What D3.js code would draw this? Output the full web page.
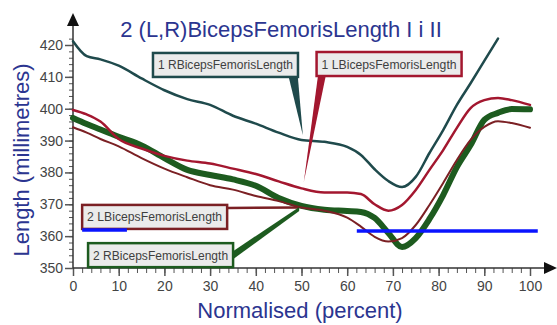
<!DOCTYPE html>
<html>
<head>
<meta charset="utf-8">
<script src="https://cdn.jsdelivr.net/npm/d3@7"></script>
<style>
  body { margin: 0; background: #fff; }
  svg { display: block; font-family: "Liberation Sans", Arial, sans-serif; }
</style>
</head>
<body>
<div id="chart"></div>
<script>
// normalised (percent) sample points shared by all series
const normalised = [0, 3, 6, 10, 15, 20, 25, 30, 35, 40, 45, 50, 55, 60, 63, 66, 69, 72, 75, 78, 81, 84, 87, 90, 93, 96, 100];

const rBicepsFemoris1 = [421.2, 416.5, 415.5, 413.5, 409.5, 405.8, 403, 401.2, 397.8, 395.3, 392.5, 390.2, 389.6, 388, 385.5, 381, 377.3, 375.4, 378.6, 386.1, 393.3, 401.2, 408, 415, 422, null, null];
const lBicepsFemoris1 = [399.6, 398.2, 396, 390.5, 387.5, 385.2, 383.7, 382.8, 381.2, 379.5, 377.2, 375, 373.7, 373.7, 373.2, 370, 368, 369.8, 374.5, 380.8, 387, 394, 400.2, 402.7, 403.4, 402.7, 401.2];
const lBicepsFemoris2 = [394.2, 392.5, 390.5, 388.2, 384.5, 381.2, 378.5, 376, 374.6, 372.6, 371, 369, 368, 365.8, 363, 359.8, 358.3, 359.4, 363.5, 369.8, 376.7, 383.9, 390.2, 394.3, 396.1, 395.5, 394];
const rBicepsFemoris2 = [397.1, 395.2, 393.5, 391.2, 388.5, 384.5, 380.8, 379.2, 377.8, 375.8, 372, 369.5, 368.3, 367.9, 367.6, 365.7, 361, 356.6, 359.4, 365.4, 372.9, 381.7, 388.6, 396.5, 398.7, 399.9, 399.8];

const seriesNames = ["1 RBicepsFemorisLength", "1 LBicepsFemorisLength", "2 LBicepsFemorisLength", "2 RBicepsFemorisLength"];
const seriesColors = ["#1f4a4c", "#a3172f", "#7b2024", "#1d5b1f"];
const seriesWidths = [2.5, 2.5, 2, 6];

const xTicks = [0, 10, 20, 30, 40, 50, 60, 70, 80, 90, 100];
const yTicks = [350, 360, 370, 380, 390, 400, 410, 420];

// blue marker strokes laid over the chart: [from %, to %, length]
const blueMarks = [[2, 11.8, 361.9], [62.1, 101.7, 361.6]];

const width = 557, height = 325;
const x = d3.scaleLinear().domain([0, 100]).range([73, 530]);
const y = d3.scaleLinear().domain([350, 420]).range([268, 45]);

const svg = d3.select("#chart").append("svg")
    .attr("width", width)
    .attr("height", height);

const navy = "#2b3590";

// title + axis titles
svg.append("text")
    .attr("x", 281).attr("y", 37)
    .attr("text-anchor", "middle")
    .attr("font-size", 22)
    .attr("fill", navy)
    .text("2 (L,R)BicepsFemorisLength I i II");

svg.append("text")
    .attr("transform", "translate(29,160) rotate(-90)")
    .attr("text-anchor", "middle")
    .attr("font-size", 22)
    .attr("fill", navy)
    .text("Length (millimetres)");

svg.append("text")
    .attr("x", 300).attr("y", 318)
    .attr("text-anchor", "middle")
    .attr("font-size", 22)
    .attr("fill", navy)
    .text("Normalised (percent)");

// axes
const axisColor = "#555";
const yAxis = svg.append("g").attr("transform", `translate(${x(0)},0)`)
    .call(d3.axisLeft(y).tickValues(d3.range(350, 423, 2)).tickSize(4).tickFormat(""));
yAxis.selectAll("line").attr("stroke", axisColor);
yAxis.select(".domain").remove();
const yMajor = svg.append("g").attr("transform", `translate(${x(0)},0)`)
    .call(d3.axisLeft(y).tickValues(yTicks).tickSize(8).tickPadding(2));
yMajor.select(".domain").remove();
yMajor.selectAll("line").attr("stroke", axisColor).attr("stroke-width", 1.5);
yMajor.selectAll("text").attr("font-size", 14).attr("fill", "#444").attr("font-family", "Liberation Sans, Arial");

const xAxis = svg.append("g").attr("transform", `translate(0,${y(350)})`)
    .call(d3.axisBottom(x).tickValues(d3.range(0, 101, 2)).tickSize(5).tickFormat(""));
xAxis.selectAll("line").attr("stroke", axisColor);
xAxis.select(".domain").remove();
const xMajor = svg.append("g").attr("transform", `translate(0,${y(350)})`)
    .call(d3.axisBottom(x).tickValues(xTicks).tickSize(8).tickPadding(5));
xMajor.select(".domain").remove();
xMajor.selectAll("line").attr("stroke", axisColor).attr("stroke-width", 1.5);
xMajor.selectAll("text").attr("font-size", 14).attr("fill", "#444").attr("font-family", "Liberation Sans, Arial");

// axis lines with arrow heads
svg.append("line").attr("x1", x(0)).attr("x2", x(0)).attr("y1", y(350)).attr("y2", 22)
    .attr("stroke", "#333").attr("stroke-width", 1.5);
svg.append("path").attr("d", `M${x(0) - 6},26 L${x(0)},13 L${x(0) + 6},26 Z`).attr("fill", "#111");
svg.append("line").attr("x1", x(0)).attr("x2", 548).attr("y1", y(350)).attr("y2", y(350))
    .attr("stroke", "#333").attr("stroke-width", 1.5);
svg.append("path").attr("d", `M544,${y(350) - 6} L557,${y(350)} L544,${y(350) + 6} Z`).attr("fill", "#111");

// series lines
const allSeries = [rBicepsFemoris1, lBicepsFemoris1, lBicepsFemoris2, rBicepsFemoris2];
const line = d3.line()
    .defined(d => d[1] != null)
    .curve(d3.curveMonotoneX)
    .x(d => x(d[0]))
    .y(d => y(d[1]));

[3, 2, 1, 0].forEach(i => {
    svg.append("path")
        .datum(normalised.map((v, k) => [v, allSeries[i][k]]))
        .attr("fill", "none")
        .attr("stroke", seriesColors[i])
        .attr("stroke-width", seriesWidths[i])
        .attr("stroke-linejoin", "round")
        .attr("stroke-linecap", "round")
        .attr("d", line);
});

// callout labels: box top-left in data units, pointer tip in data units
const callouts = [
    { s: 0, left: 17.5, top: 417.5, tip: [50.3, 391.7], base: [47.2, 49.2], kind: "wedge" },
    { s: 1, left: 53.3, top: 417.8, tip: [50.5, 377], base: [53.6, 55.3], kind: "wedge" },
    { s: 2, left: 2, top: 369.8, tip: [49.5, 369], kind: "line" },
    { s: 3, left: 3.3, top: 357.8, tip: [49.5, 368.5], kind: "thick" }
];
const boxW = 145, boxH = 24;

callouts.forEach(c => {
    const bx = x(c.left), by = y(c.top);
    const col = seriesColors[c.s];
    if (c.kind === "wedge") {
        svg.append("path")
            .attr("d", `M${x(c.base[0])},${by + boxH} L${x(c.tip[0])},${y(c.tip[1])} L${x(c.base[1])},${by + boxH} Z`)
            .attr("fill", col);
    } else if (c.kind === "line") {
        svg.append("line")
            .attr("x1", bx + boxW).attr("y1", by + 3)
            .attr("x2", x(c.tip[0])).attr("y2", y(c.tip[1]))
            .attr("stroke", col).attr("stroke-width", 2.5);
    } else {
        svg.append("path")
            .attr("d", `M${bx + boxW},${by + 8} L${x(c.tip[0])},${y(c.tip[1]) - 2} L${x(c.tip[0])},${y(c.tip[1]) + 2} L${bx + boxW},${by + 16} Z`)
            .attr("fill", col);
    }
    svg.append("rect")
        .attr("x", bx).attr("y", by)
        .attr("width", boxW).attr("height", boxH)
        .attr("fill", "#ebebeb")
        .attr("stroke", col)
        .attr("stroke-width", 2.5);
    svg.append("text")
        .attr("x", bx + 5).attr("y", by + 16.5)
        .attr("font-size", 12)
        .attr("fill", "#3f3f3f")
        .attr("textLength", boxW - 10)
        .attr("lengthAdjust", "spacingAndGlyphs")
        .text(seriesNames[c.s]);
});

// blue marker strokes
blueMarks.forEach(m => {
    svg.append("line")
        .attr("x1", x(m[0])).attr("x2", x(m[1]))
        .attr("y1", y(m[2])).attr("y2", y(m[2]))
        .attr("stroke", "#0a14ff")
        .attr("stroke-width", 3.5);
});
</script>
</body>
</html>
